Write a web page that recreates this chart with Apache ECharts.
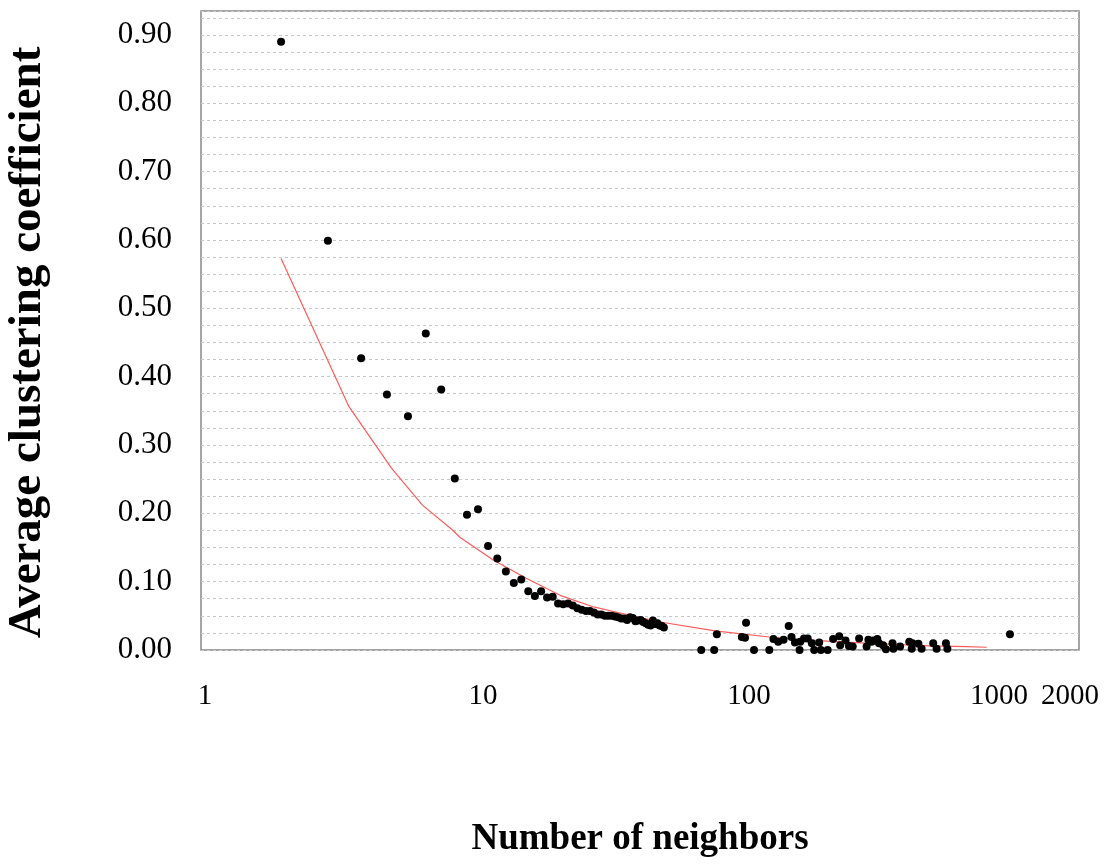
<!DOCTYPE html>
<html>
<head>
<meta charset="utf-8">
<script src="https://cdn.jsdelivr.net/npm/echarts@6/dist/echarts.min.js"></script>
<style>
  html, body { margin: 0; padding: 0; background: #fff; }
  #chart { width: 1106px; height: 868px; }
</style>
</head>
<body>
<div id="chart"></div>
<script>
// Number of neighbors (degree k) of each observed point
const degree = [
  2, 3, 4, 5, 6, 7, 8, 9, 10, 11, 12, 13, 14, 15, 16, 17, 18, 19, 20, 21,
  22, 23, 24, 25, 26, 27, 28, 29, 30, 31, 32, 33, 34, 35, 36, 37, 38, 39, 40,
  41, 42, 43, 44, 45, 46, 47, 48, 49, 50, 51, 52, 53, 54, 55,
  76, 85, 87, 108, 111, 112, 120, 137, 142, 148, 155, 162, 166, 171, 178, 179,
  185, 191, 198, 202, 211, 214, 227, 238, 251, 253, 265, 273, 282, 298, 318,
  323, 332, 337, 349, 354, 367, 376, 398, 401, 425, 460, 470, 473, 498, 512,
  566, 583, 632, 640, 1100
];

// Average clustering coefficient C(k) for each degree above
const clustering = [
  0.890, 0.599, 0.427, 0.374, 0.342, 0.463, 0.381, 0.251, 0.198, 0.206,
  0.152, 0.134, 0.115, 0.098, 0.103, 0.086, 0.079, 0.086, 0.077, 0.078,
  0.068, 0.067, 0.068, 0.065, 0.061, 0.059, 0.057, 0.057, 0.055, 0.052,
  0.052, 0.050, 0.050, 0.050, 0.049, 0.048, 0.046, 0.046, 0.044,
  0.048, 0.047, 0.042, 0.043, 0.044, 0.041, 0.039, 0.037, 0.036, 0.043,
  0.038, 0.039, 0.036, 0.035, 0.033,
  0.000, 0.000, 0.023, 0.019, 0.018, 0.040, 0.000, 0.000, 0.016, 0.012,
  0.015, 0.035, 0.019, 0.011, 0.000, 0.012,
  0.017, 0.017, 0.010, 0.000, 0.011, 0.000, 0.000, 0.016, 0.020, 0.007,
  0.014, 0.006, 0.005, 0.017, 0.005,
  0.015, 0.012, 0.014, 0.016, 0.010, 0.007, 0.001, 0.010, 0.002, 0.005,
  0.012, 0.002, 0.010, 0.009, 0.002,
  0.010, 0.002, 0.010, 0.002, 0.023
];

// Fitted trend curve (red line)
const fitDegree = [2, 3.6, 5.2, 6.8, 8.8, 9.4, 12.5, 16.7, 22.4, 29.9, 39.9, 53.3, 85.6, 137, 226, 357, 548, 754, 900];
const fitClustering = [0.573, 0.356, 0.266, 0.212, 0.176, 0.165, 0.132, 0.105, 0.080, 0.063, 0.052, 0.041, 0.028, 0.019, 0.013, 0.009, 0.006, 0.0048, 0.004];

// Tick labels
const xTickLabels = ['1', '10', '100', '1000', '2000'];
const yTickLabels = ['0.00', '0.10', '0.20', '0.30', '0.40', '0.50', '0.60', '0.70', '0.80', '0.90'];

const serif = '"Liberation Serif", "Times New Roman", serif';

const chart = echarts.init(document.getElementById('chart'), null, { renderer: 'canvas' });

chart.setOption({
  animation: false,
  backgroundColor: '#fff',
  grid: {
    left: 201, top: 11, width: 878, height: 639,
    show: true,
    borderColor: '#888',
    borderWidth: 1.5,
    containLabel: false,
    outerBoundsMode: 'none'
  },
  xAxis: {
    type: 'log',
    logBase: 10,
    min: 1,
    max: 2000,
    name: 'Number of neighbors',
    nameLocation: 'middle',
    nameGap: 171,
    nameTextStyle: { fontFamily: serif, fontSize: 37, fontWeight: 'bold', color: '#000' },
    axisLine: { show: false },
    axisTick: { show: false },
    splitLine: { show: false },
    axisLabel: {
      show: true,
      showMinLabel: true,
      showMaxLabel: true,
      margin: 32,
      fontFamily: serif,
      fontSize: 29,
      color: '#000',
      formatter: function (v) {
        const s = String(Math.round(v));
        if (xTickLabels.indexOf(s) < 0) return '';
        if (s === '1') return '{one|' + s + '}';
        if (s === '10' || s === '100') return '{mid|' + s + '}';
        if (s === '2000') return '{end|' + s + '}';
        return '{std|' + s + '}';
      },
      rich: {
        one: { fontFamily: serif, fontSize: 29, color: '#000', padding: [0, 0, 0, 8] },
        mid: { fontFamily: serif, fontSize: 29, color: '#000', padding: [0, 0, 0, 32] },
        end: { fontFamily: serif, fontSize: 29, color: '#000', padding: [0, 18, 0, 0] },
        std: { fontFamily: serif, fontSize: 29, color: '#000' }
      }
    }
  },
  yAxis: {
    type: 'value',
    min: 0,
    max: 0.935,
    interval: 0.025,
    name: 'Average clustering coefficient',
    nameLocation: 'middle',
    nameRotate: 90,
    nameGap: 150,
    nameTextStyle: {
      fontFamily: serif, fontSize: 47, fontWeight: 'bold', color: '#000',
      padding: [0, 24, 0, 0]
    },
    axisLine: { show: false },
    axisTick: { show: false },
    splitLine: {
      show: true,
      lineStyle: { color: '#c8c8c8', width: 1, type: [3, 3] }
    },
    axisLabel: {
      margin: 29,
      fontFamily: serif,
      fontSize: 31,
      color: '#000',
      formatter: function (v) {
        const s = v.toFixed(2);
        return yTickLabels.indexOf(s) >= 0 ? s : '';
      }
    }
  },
  series: [
    {
      name: 'fit',
      type: 'line',
      data: fitDegree.map((k, i) => [k, fitClustering[i]]),
      showSymbol: false,
      smooth: false,
      lineStyle: { color: '#ff5a5a', width: 1.2 },
      z: 2
    },
    {
      name: 'C(k)',
      type: 'scatter',
      data: degree.map((k, i) => [k, clustering[i]]),
      symbol: 'circle',
      symbolSize: 8,
      itemStyle: { color: '#000', opacity: 1 },
      z: 3
    }
  ]
});
</script>
</body>
</html>
